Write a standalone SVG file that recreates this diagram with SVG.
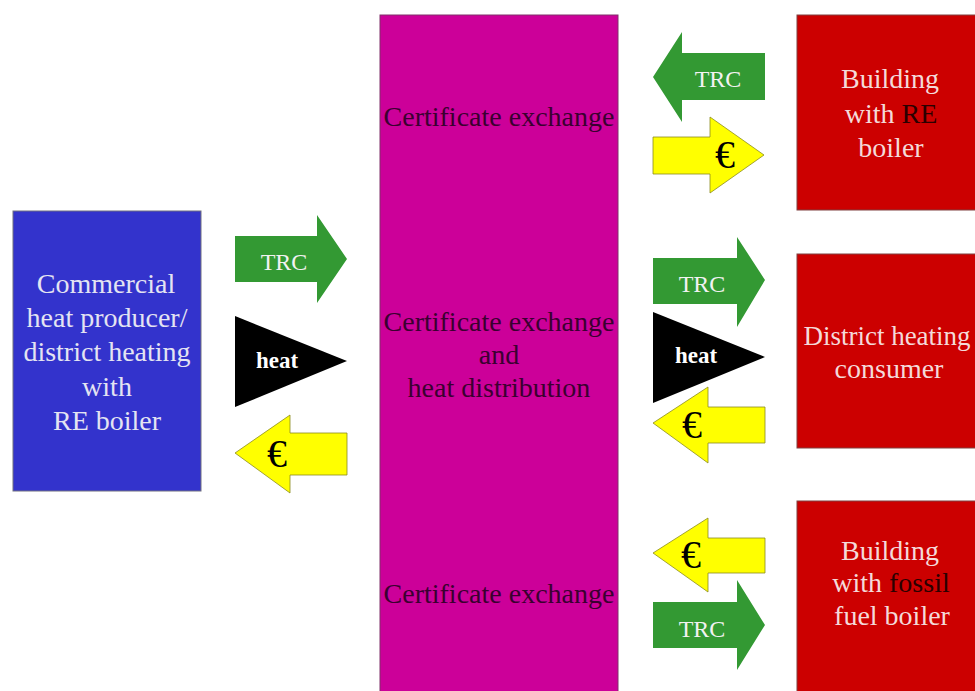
<svg xmlns="http://www.w3.org/2000/svg" width="975" height="691" viewBox="0 0 975 691">
  <defs>
    <style>
      text { font-family: "Liberation Serif", "Times New Roman", "DejaVu Serif", serif; text-anchor: middle; }
      .box-text { font-size: 28px; fill: #e4e4f2; }
      .hub-text { font-size: 28px; fill: #3a0030; }
      .red-text { font-size: 28px; fill: #f4dada; }
      .dark { fill: #2a0000; }
      .trc { fill: #339933; }
      .eur { fill: #ffff00; stroke: #8c8c20; stroke-width: 0.8; }
      .heat { fill: #000000; }
      .lbl-trc { font-size: 24px; fill: #f2f2f2; }
      .lbl-heat { font-size: 23px; font-weight: bold; fill: #ffffff; }
      .lbl-eur { font-size: 40px; fill: #000000; }
    </style>
  </defs>

  <rect width="975" height="691" fill="#ffffff"/>

  <!-- producer -->
  <g id="producer">
    <rect x="13" y="211" width="188" height="280" fill="#3333cc" stroke="#707080" stroke-width="1"/>
    <text class="box-text" x="106" y="293">Commercial</text>
    <text class="box-text" x="107" y="327">heat producer/</text>
    <text class="box-text" x="107" y="361">district heating</text>
    <text class="box-text" x="107" y="396">with</text>
    <text class="box-text" x="107" y="430">RE boiler</text>
  </g>

  <!-- central exchange -->
  <g id="exchange">
    <rect x="380" y="15" width="238" height="680" fill="#cc0099" stroke="#80306a" stroke-width="1"/>
    <text class="hub-text" x="499" y="126">Certificate exchange</text>
    <text class="hub-text" x="499" y="331">Certificate exchange</text>
    <text class="hub-text" x="499" y="364">and</text>
    <text class="hub-text" x="499" y="397">heat distribution</text>
    <text class="hub-text" x="499" y="603">Certificate exchange</text>
  </g>

  <!-- consumers -->
  <g id="building-re">
    <rect x="797" y="15" width="182" height="195" fill="#cc0000" stroke="#804040" stroke-width="1"/>
    <text class="red-text" x="890" y="88">Building</text>
    <text class="red-text" x="891" y="123">with <tspan class="dark">RE</tspan></text>
    <text class="red-text" x="891" y="157">boiler</text>
  </g>
  <g id="dh-consumer">
    <rect x="797" y="254" width="182" height="194" fill="#cc0000" stroke="#804040" stroke-width="1"/>
    <text class="red-text" x="887" y="345" style="font-size:27px">District heating</text>
    <text class="red-text" x="889" y="378">consumer</text>
  </g>
  <g id="building-fossil">
    <rect x="797" y="501" width="182" height="194" fill="#cc0000" stroke="#804040" stroke-width="1"/>
    <text class="red-text" x="890" y="560">Building</text>
    <text class="red-text" x="891" y="592">with <tspan class="dark">fossil</tspan></text>
    <text class="red-text" x="892" y="625">fuel boiler</text>
  </g>

  <!-- flows between parties -->
  <g id="connectors">
    <!-- producer side -->
    <g id="flow-trc-in">
      <polygon class="trc" points="235,236 317,236 317,215 347,259 317,303 317,282 235,282"/>
      <text class="lbl-trc" x="284" y="270">TRC</text>
    </g>
    <g id="flow-heat-in">
      <polygon class="heat" points="235,316 347,361 235,407"/>
      <text class="lbl-heat" x="277" y="368">heat</text>
    </g>
    <g id="flow-eur-out">
      <polygon class="eur" points="235,453 290,415 290,433 347,433 347,475 290,475 290,493"/>
      <text class="lbl-eur" x="277" y="467">€</text>
    </g>

    <!-- RE building -->
    <g id="flow-trc-re">
      <polygon class="trc" points="653,77 682,32 682,53 765,53 765,100 682,100 682,122"/>
      <text class="lbl-trc" x="718" y="87">TRC</text>
    </g>
    <g id="flow-eur-re">
      <polygon class="eur" points="653,137 710,137 710,117 764,155 710,193 710,174 653,174"/>
      <text class="lbl-eur" x="725" y="168">€</text>
    </g>

    <!-- district heating consumer -->
    <g id="flow-trc-dh">
      <polygon class="trc" points="653,258 737,258 737,237 765,280 737,327 737,304 653,304"/>
      <text class="lbl-trc" x="702" y="292">TRC</text>
    </g>
    <g id="flow-heat-dh">
      <polygon class="heat" points="653,312 765,357 653,403"/>
      <text class="lbl-heat" x="696" y="363">heat</text>
    </g>
    <g id="flow-eur-dh">
      <polygon class="eur" points="653,423 708,387 708,407 765,407 765,443 708,443 708,463"/>
      <text class="lbl-eur" x="692" y="438">€</text>
    </g>

    <!-- fossil building -->
    <g id="flow-eur-fossil">
      <polygon class="eur" points="653,553 708,518 708,538 765,538 765,573 708,573 708,592"/>
      <text class="lbl-eur" x="691" y="568">€</text>
    </g>
    <g id="flow-trc-fossil">
      <polygon class="trc" points="653,602 737,602 737,580 765,625 737,670 737,648 653,648"/>
      <text class="lbl-trc" x="702" y="637">TRC</text>
    </g>
  </g>
</svg>
